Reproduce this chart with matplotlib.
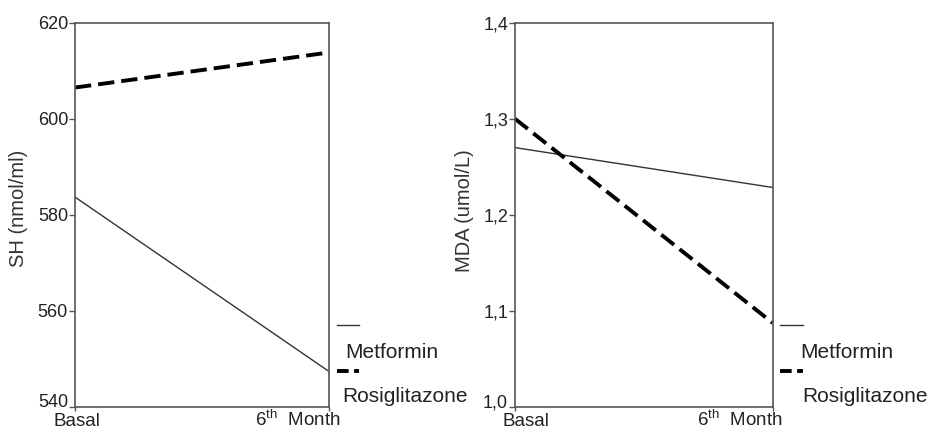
import matplotlib
matplotlib.use("Agg")
import matplotlib.pyplot as plt
from matplotlib.lines import Line2D
from matplotlib.transforms import ScaledTranslation

plt.rcParams['font.family'] = ['Liberation Sans', 'DejaVu Sans']
plt.rcParams['mathtext.fontset'] = 'custom'
plt.rcParams['mathtext.rm'] = 'Liberation Sans'

time_points = ['Basal', '6$^{\\rm th}$  Month']
series_names = ['Metformin', 'Rosiglitazone']

sh_metformin = [583.7, 547.4]
sh_rosiglitazone = [606.5, 613.8]
sh_ticks = [540, 560, 580, 600, 620]
sh_ticklabels = ['540', '560', '580', '600', '620']

mda_metformin = [1.270, 1.2285]
mda_rosiglitazone = [1.300, 1.0875]
mda_ticks = [1.0, 1.1, 1.2, 1.3, 1.4]
mda_ticklabels = ['1,0', '1,1', '1,2', '1,3', '1,4']

W, H = 928, 430
fig = plt.figure(figsize=(W / 100, H / 100), dpi=100)

spine_col = '#555555'
text_col = '#222222'

solid_kw = dict(color='#333333', lw=1.0, ls='-')
dash_kw = dict(color='black', lw=2.8, ls=(0, (4.2, 1.8)))
leg_dash_kw = dict(color='black', lw=2.8, ls=(0, (3.0, 1.4)), solid_capstyle='butt', dash_capstyle='butt')


def px_ax(x0, x1, y0, y1):
    return fig.add_axes([x0 / W, 1 - y1 / H, (x1 - x0) / W, (y1 - y0) / H])


def setup(ax, ylo, yhi, ticks, labels, ylabel, lx, ly, shift_basal, shift_month):
    ax.set_xlim(0, 1)
    ax.set_ylim(ylo, yhi)
    ax.set_yticks(ticks)
    ax.set_yticklabels(labels, fontsize=13, color=text_col)
    ax.set_xticks([0, 1])
    ax.set_xticklabels(time_points, fontsize=13.5, color=text_col)
    ax.tick_params(axis='y', length=4, width=1, color=spine_col, pad=1)
    ax.tick_params(axis='x', length=3, width=1, color=spine_col, pad=0)
    for s in ax.spines.values():
        s.set_color(spine_col)
        s.set_linewidth(1.2)
    ax.set_ylabel(ylabel, fontsize=14.5, color='#333333')
    ax.yaxis.set_label_coords(lx, ly)
    lbls = ax.get_xticklabels()
    lbls[0].set_transform(lbls[0].get_transform() + ScaledTranslation(shift_basal / 100, -2 / 100, fig.dpi_scale_trans))
    lbls[1].set_transform(lbls[1].get_transform() + ScaledTranslation(shift_month / 100, 2 / 100, fig.dpi_scale_trans))
    ylbls = ax.get_yticklabels()
    ylbls[0].set_transform(ylbls[0].get_transform() + ScaledTranslation(0, 6 / 100, fig.dpi_scale_trans))


def legend(xl0, xl1, xt_m, xt_r):
    fig.add_artist(Line2D([xl0 / W, xl1 / W], [1 - 325 / H, 1 - 325 / H], **solid_kw))
    fig.add_artist(Line2D([xl0 / W, xl1 / W], [1 - 371 / H, 1 - 371 / H], **leg_dash_kw))
    fig.text(xt_m / W, 1 - 353 / H, series_names[0], fontsize=15, color=text_col, va='center', ha='left')
    fig.text(xt_r / W, 1 - 397 / H, series_names[1], fontsize=15, color=text_col, va='center', ha='left')


ax1 = px_ax(75, 329, 22.7, 407)
ax1.plot([0, 1], sh_metformin, **solid_kw)
ax1.plot([0, 1], sh_rosiglitazone, **dash_kw)
setup(ax1, 540, 620, sh_ticks, sh_ticklabels, 'SH (nmol/ml)', -0.185, 0.518, 2, -31)
legend(337, 359, 345, 342)

ax2 = px_ax(515, 772.7, 22.7, 407)
ax2.plot([0, 1], mda_metformin, **solid_kw)
ax2.plot([0, 1], mda_rosiglitazone, **dash_kw)
setup(ax2, 1.0, 1.4, mda_ticks, mda_ticklabels, 'MDA (umol/L)', -0.159, 0.512, 11, -33)
legend(780, 803, 800, 802)

fig.savefig('out.png', dpi=100)
